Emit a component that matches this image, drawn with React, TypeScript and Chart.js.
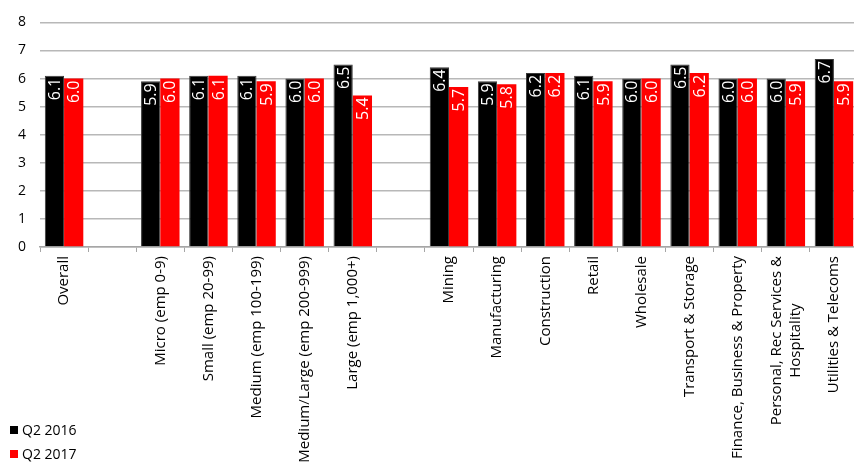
import React, { useEffect, useRef } from "react";
import { Chart, registerables } from "chart.js";

Chart.register(...registerables);

const categories: (string | string[])[] = [
  "Overall",
  "",
  "Micro (emp 0-9)",
  "Small (emp 20-99)",
  "Medium (emp 100-199)",
  "Medium/Large (emp 200-999)",
  "Large (emp 1,000+)",
  "",
  "Mining",
  "Manufacturing",
  "Construction",
  "Retail",
  "Wholesale",
  "Transport & Storage",
  "Finance, Business & Property",
  ["Personal, Rec Services &", "Hospitality"],
  "Utilities & Telecoms",
];

const q2_2016: (number | null)[] = [6.1, null, 5.9, 6.1, 6.1, 6.0, 6.5, null, 6.4, 5.9, 6.2, 6.1, 6.0, 6.5, 6.0, 6.0, 6.7];
const q2_2017: (number | null)[] = [6.0, null, 6.0, 6.1, 5.9, 6.0, 5.4, null, 5.7, 5.8, 6.2, 5.9, 6.0, 6.2, 6.0, 5.9, 5.9];

const seriesNames = ["Q2 2016", "Q2 2017"];
const seriesColors = ["#000000", "#FF0000"];
const yTicks = [0, 1, 2, 3, 4, 5, 6, 7, 8];

const FONT = "'Open Sans', Lato, sans-serif";

const overlayPlugin = {
  id: "overlay",
  afterDatasetsDraw(chart: any) {
    const ctx = chart.ctx as CanvasRenderingContext2D;
    ctx.save();
    ctx.font = `16px ${FONT}`;
    ctx.fillStyle = "#ffffff";
    chart.data.datasets.forEach((ds: any, di: number) => {
      const meta = chart.getDatasetMeta(di);
      meta.data.forEach((bar: any, i: number) => {
        const v = ds.data[i];
        if (v === null || v === undefined) return;
        ctx.save();
        ctx.translate(bar.x, bar.y + 2);
        ctx.rotate(-Math.PI / 2);
        ctx.textAlign = "right";
        ctx.textBaseline = "middle";
        ctx.fillText(Number(v).toFixed(1), 0, 1);
        ctx.restore();
      });
    });
    ctx.restore();
  },
  afterDraw(chart: any) {
    const ctx = chart.ctx as CanvasRenderingContext2D;
    const xs = chart.scales.x;
    const axisY = chart.chartArea.bottom;
    ctx.save();
    ctx.font = `15px ${FONT}`;
    ctx.fillStyle = "#000000";
    const lineH = 19;
    categories.forEach((lab, i) => {
      const lines = Array.isArray(lab) ? lab : [lab];
      if (!lines[0]) return;
      const widths = lines.map((l) => ctx.measureText(l).width);
      const W = Math.max(...widths);
      const cx = xs.getPixelForValue(i);
      const n = lines.length;
      lines.forEach((l, li) => {
        const x = cx + (li - (n - 1) / 2) * lineH;
        ctx.save();
        ctx.translate(x, axisY + 9);
        ctx.rotate(-Math.PI / 2);
        ctx.textAlign = "center";
        ctx.textBaseline = "middle";
        ctx.fillText(l, -W / 2, 0);
        ctx.restore();
      });
    });
    ctx.restore();
    ctx.save();
    ctx.font = `14px ${FONT}`;
    ctx.textBaseline = "middle";
    ctx.textAlign = "left";
    const rows = [430, 454];
    seriesNames.forEach((name, i) => {
      ctx.fillStyle = seriesColors[i];
      ctx.fillRect(10, rows[i] - 4, 8, 8);
      ctx.fillStyle = "#000000";
      ctx.fillText(name, 22, rows[i] + 1);
    });
    ctx.restore();
  },
};

export default function App() {
  const ref = useRef<HTMLCanvasElement | null>(null);

  useEffect(() => {
    if (!ref.current) return;
    const chart = new Chart(ref.current, {
      type: "bar",
      data: {
        labels: categories.map((c) => (Array.isArray(c) ? c.join(" ") : c)),
        datasets: [
          {
            label: seriesNames[0],
            data: q2_2016,
            backgroundColor: seriesColors[0],
            borderColor: "#3a3a3a",
            borderWidth: 1,
            categoryPercentage: 0.8,
            barPercentage: 1.0,
          },
          {
            label: seriesNames[1],
            data: q2_2017,
            backgroundColor: seriesColors[1],
            borderWidth: 0,
            categoryPercentage: 0.8,
            barPercentage: 1.0,
          },
        ],
      },
      options: {
        responsive: false,
        animation: false,
        devicePixelRatio: 1,
        layout: { padding: { top: 18, right: 0, left: 0, bottom: 0 } },
        plugins: {
          legend: { display: false },
          tooltip: { enabled: false },
          title: { display: false },
        },
        scales: {
          x: {
            offset: true,
            grid: {
              display: true,
              offset: true,
              drawOnChartArea: false,
              drawTicks: true,
              tickLength: 5,
              color: "#a6a6a6",
              lineWidth: 1,
            },
            border: { display: true, color: "#a6a6a6", width: 1.5 },
            ticks: { display: false },
            afterFit(scale: any) {
              scale.height = 215;
            },
          },
          y: {
            min: 0,
            max: 8,
            afterBuildTicks(scale: any) {
              scale.ticks = yTicks.map((v) => ({ value: v }));
            },
            grid: {
              color: "#b8b8b8",
              lineWidth: 1.5,
              drawTicks: false,
            },
            border: { display: false },
            ticks: {
              padding: 14,
              color: "#000000",
              font: { family: FONT, size: 14 },
            },
            afterFit(scale: any) {
              scale.width = 40;
            },
          },
        },
      },
      plugins: [overlayPlugin],
    });
    return () => chart.destroy();
  }, []);

  return (
    <div
      style={{
        position: "fixed",
        left: 0,
        top: 0,
        width: 854,
        height: 462,
        overflow: "hidden",
        background: "#ffffff",
      }}
    >
      <canvas ref={ref} width={858} height={462} style={{ display: "block" }} />
    </div>
  );
}
